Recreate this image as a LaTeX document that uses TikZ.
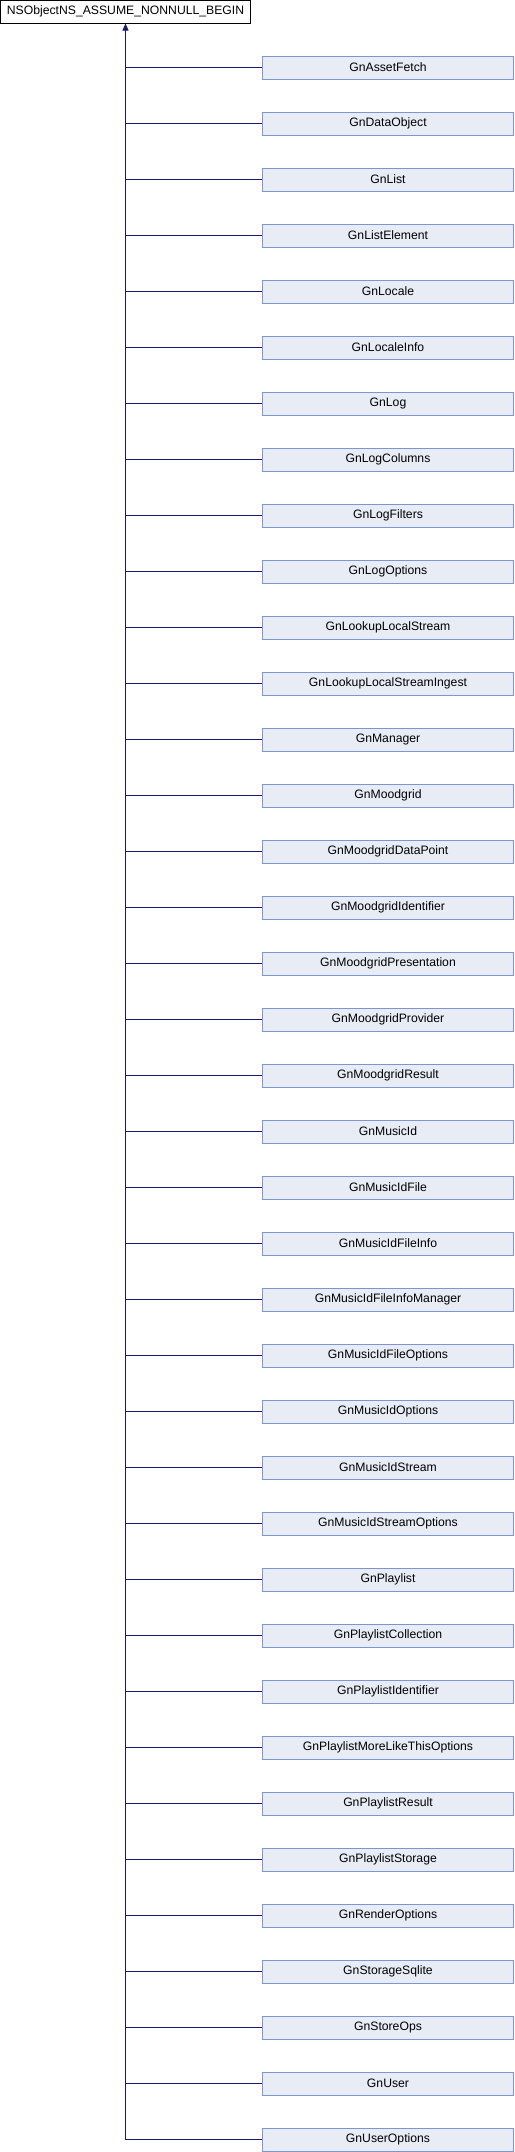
\documentclass[tikz,border=0pt]{standalone}
\usepackage{fontspec}
\setmainfont{Liberation Sans}
\usepackage{tikz}
\usetikzlibrary{calc}
\usetikzlibrary{arrows.meta}
\definecolor{edgeblue}{HTML}{191970}
\definecolor{boxfill}{HTML}{E8ECF5}
\definecolor{boxline}{HTML}{7E95D0}
\tikzset{
  base/.style={draw=black, fill=white, line width=1pt, minimum width=250pt, minimum height=23pt, inner sep=0pt, font=\fontsize{12.2}{14}\selectfont},
  child/.style={draw=boxline, fill=boxfill, line width=1pt, minimum width=251pt, minimum height=23pt, inner sep=0pt, font=\fontsize{12.2}{14}\selectfont},
  link/.style={draw=edgeblue, line width=1pt}
}
\begin{document}
\begin{tikzpicture}[x=1pt, y=-1pt]
% Fix the picture size
\useasboundingbox (0,0) rectangle (514,2152);
% Spacing of the child classes
\def\firstY{67.5}
\def\gapY{56}
\def\childX{388}
% Base class at the top
\node[base] (root) at (125.5,11.5) {NSObjectNS\_ASSUME\_NONNULL\_BEGIN};
% Derived classes, one per row
\foreach \name [count=\i from 0] in {GnAssetFetch,GnDataObject,GnList,GnListElement,GnLocale,GnLocaleInfo,GnLog,GnLogColumns,GnLogFilters,GnLogOptions,GnLookupLocalStream,GnLookupLocalStreamIngest,GnManager,GnMoodgrid,GnMoodgridDataPoint,GnMoodgridIdentifier,GnMoodgridPresentation,GnMoodgridProvider,GnMoodgridResult,GnMusicId,GnMusicIdFile,GnMusicIdFileInfo,GnMusicIdFileInfoManager,GnMusicIdFileOptions,GnMusicIdOptions,GnMusicIdStream,GnMusicIdStreamOptions,GnPlaylist,GnPlaylistCollection,GnPlaylistIdentifier,GnPlaylistMoreLikeThisOptions,GnPlaylistResult,GnPlaylistStorage,GnRenderOptions,GnStorageSqlite,GnStoreOps,GnUser,GnUserOptions}
{
  \node[child] (\name) at (\childX,\firstY+\i*\gapY) {\name};
  % branch from the trunk
  \draw[link] (root.south |- \name.west) -- (\name.west);
}
% Trunk with the inheritance arrow
\draw[link, -{Triangle[length=7pt,width=6pt]}] (root.south |- GnUserOptions.west) -- (root.south);
\end{tikzpicture}
\end{document}
